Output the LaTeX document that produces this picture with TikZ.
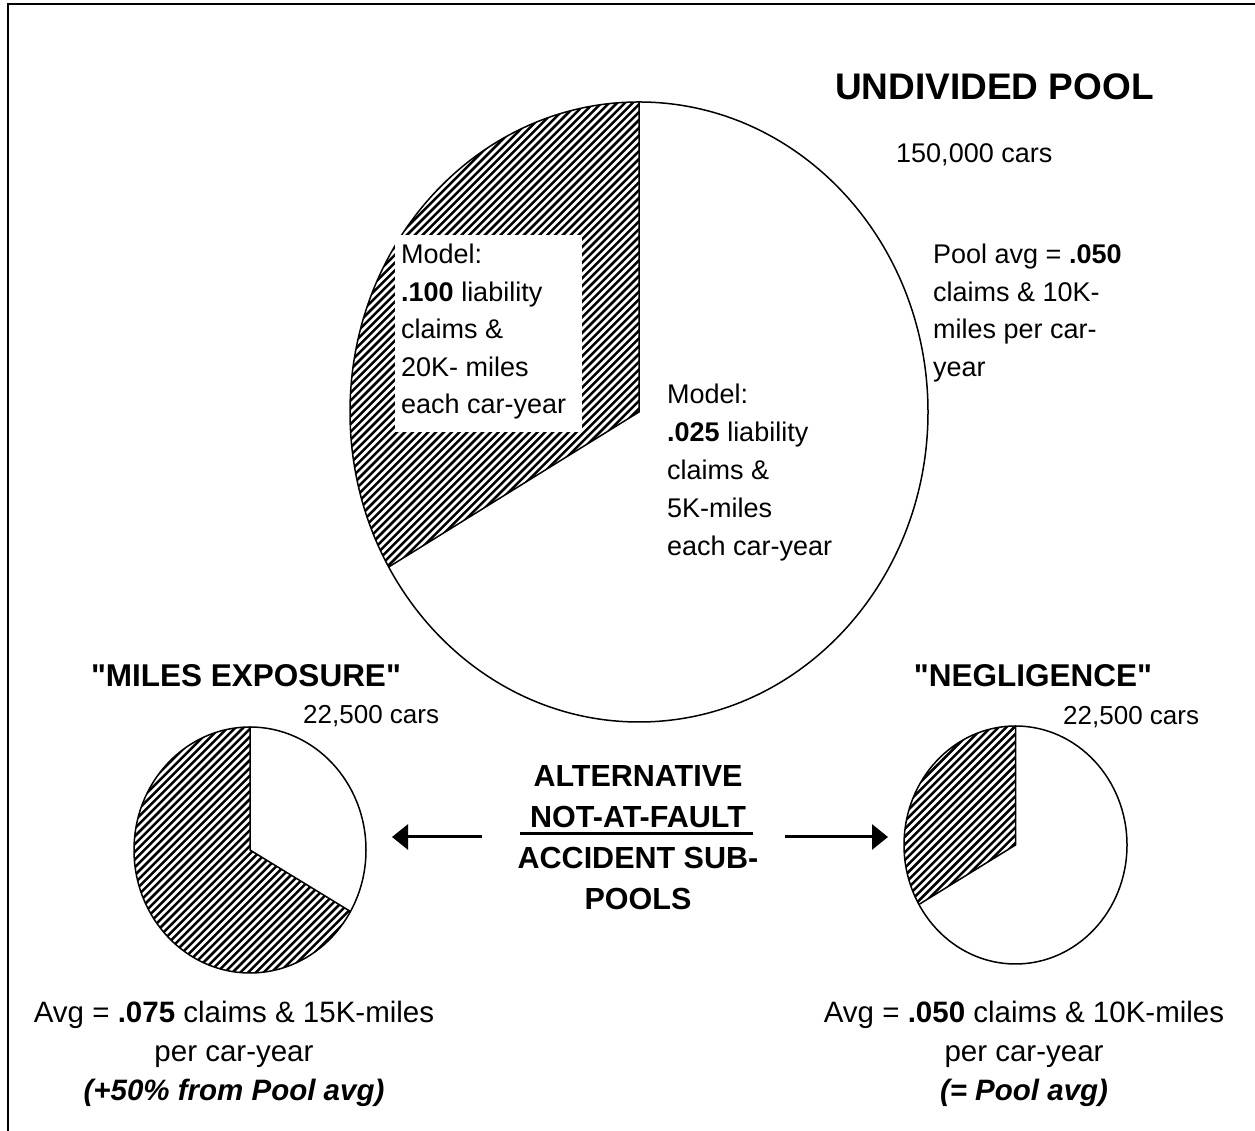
\documentclass[tikz,border=0pt]{standalone}
\usepackage{fontspec}
\setmainfont{Liberation Sans}[Ligatures=TeXOff]
\usetikzlibrary{arrows.meta,calc}
\begin{document}
\begin{tikzpicture}[x=1pt,y=1pt,
  txt/.style={font=\fontsize{27}{32}\selectfont, inner sep=0, anchor=base west},
  stxt/.style={font=\fontsize{26}{30}\selectfont, inner sep=0, anchor=base west},
  btxt/.style={font=\fontsize{29.5}{34}\selectfont, inner sep=0, anchor=base},
  head/.style={font=\fontsize{31.5}{36}\selectfont\bfseries, inner sep=0, anchor=base},
  ctr/.style={font=\fontsize{30.5}{36}\selectfont\bfseries, inner sep=0, anchor=base},
  title/.style={font=\fontsize{37}{42}\selectfont\bfseries, inner sep=0, anchor=base west},
  hl/.style={line width=2.5pt},
  rim/.style={line width=1.5pt},
  arr/.style={line width=3pt,-{Triangle[length=16pt,width=25pt]}}
]
\useasboundingbox (0,0) rectangle (1255,1131);
% frame
\draw[line width=2pt] (7.5,0) -- (7.5,1126.5) -- (1255,1126.5);

% big pie
\coordinate (bc) at (639,719);
\begin{scope}
  \clip (bc) -- ++(0,310) arc[start angle=90,end angle=210,x radius=289,y radius=310] -- cycle;
  \foreach \c in {-604,-596.2,...,170} \draw[hl] ($(bc)+(\c-400,-400)$) -- ++(800,800);
\end{scope}
\draw[rim] (bc) ellipse[x radius=289,y radius=310];
\draw[rim] (639,1029) -- (bc) -- ($(bc)+(-250.3,-155)$);
\fill[white] (395,699) rectangle (582,896);

\node[title] (t0) at (835,1031) {UNDIVIDED POOL};
\node[txt] (t1) at (896,968) {150,000 cars};

\node[txt] (m1) at (401,867) {Model:};
\node[txt] (m2) at (401,829.5) {\textbf{.100} liability};
\node[txt] (m3) at (401,792) {claims \&};
\node[txt] (m4) at (401,754.5) {20K- miles};
\node[txt] (m5) at (401,717) {each car-year};

\node[txt] (p1) at (933,867) {Pool avg = \textbf{.050}};
\node[txt] (p2) at (933,829.5) {claims \& 10K-};
\node[txt] (p3) at (933,792) {miles per car-};
\node[txt] (p4) at (933,754.5) {year};

\node[txt] (n1) at (667,727) {Model:};
\node[txt] (n2) at (667,689) {\textbf{.025} liability};
\node[txt] (n3) at (667,651) {claims \&};
\node[txt] (n4) at (667,613) {5K-miles};
\node[txt] (n5) at (667,575) {each car-year};

% left pie
\coordinate (lc) at (250,281);
\begin{scope}
  \clip (lc) -- ++(0,123) arc[start angle=90,end angle=330,x radius=116,y radius=123] -- cycle;
  \foreach \c in {-246,-238.2,...,250} \draw[hl] ($(lc)+(\c-200,-200)$) -- ++(400,400);
\end{scope}
\draw[rim] (lc) ellipse[x radius=116,y radius=123];
\draw[rim] (250,404) -- (lc) -- ($(lc)+(100.5,-61.5)$);

% right pie
\coordinate (rc) at (1015.5,286);
\begin{scope}
  \clip (rc) -- ++(0,119) arc[start angle=90,end angle=210,x radius=111.5,y radius=119] -- cycle;
  \foreach \c in {-236,-228.2,...,70} \draw[hl] ($(rc)+(\c-200,-200)$) -- ++(400,400);
\end{scope}
\draw[rim] (rc) ellipse[x radius=111.5,y radius=119];
\draw[rim] (1015.5,405) -- (rc) -- ($(rc)+(-96.6,-59.5)$);

\node[head] (h1) at (246,444) {"MILES EXPOSURE"};
\node[head] (h2) at (1033,444) {"NEGLIGENCE"};
\node[stxt] (c1) at (303,407) {22,500 cars};
\node[stxt] (c2) at (1063,406) {22,500 cars};

% center
\node[ctr] (a1) at (638,344) {ALTERNATIVE};
\node[ctr] (a2) at (638,303) {NOT-AT-FAULT\ };
\node[ctr] (a3) at (638,262) {ACCIDENT SUB-};
\node[ctr] (a4) at (638,221) {POOLS};
\draw[line width=3pt] (520,297) -- (753,297);

\coordinate (la1) at (482,294);
\coordinate (la2) at (392,294);
\coordinate (ra1) at (785,294);
\coordinate (ra2) at (888,294);
\draw[arr] (la1) -- (la2);
\draw[arr] (ra1) -- (ra2);

% bottom
\node[btxt] (l1) at (234,108) {Avg = \textbf{.075} claims \& 15K-miles};
\node[btxt] (l2) at (234,69) {per car-year};
\node[btxt] (l3) at (234,30) {\textbf{\itshape (+50\% from Pool avg)}};
\node[btxt] (r1) at (1024,108) {Avg = \textbf{.050} claims \& 10K-miles};
\node[btxt] (r2) at (1024,69) {per car-year};
\node[btxt] (r3) at (1024,30) {\textbf{\itshape (= Pool avg)}};
\end{tikzpicture}
\end{document}
